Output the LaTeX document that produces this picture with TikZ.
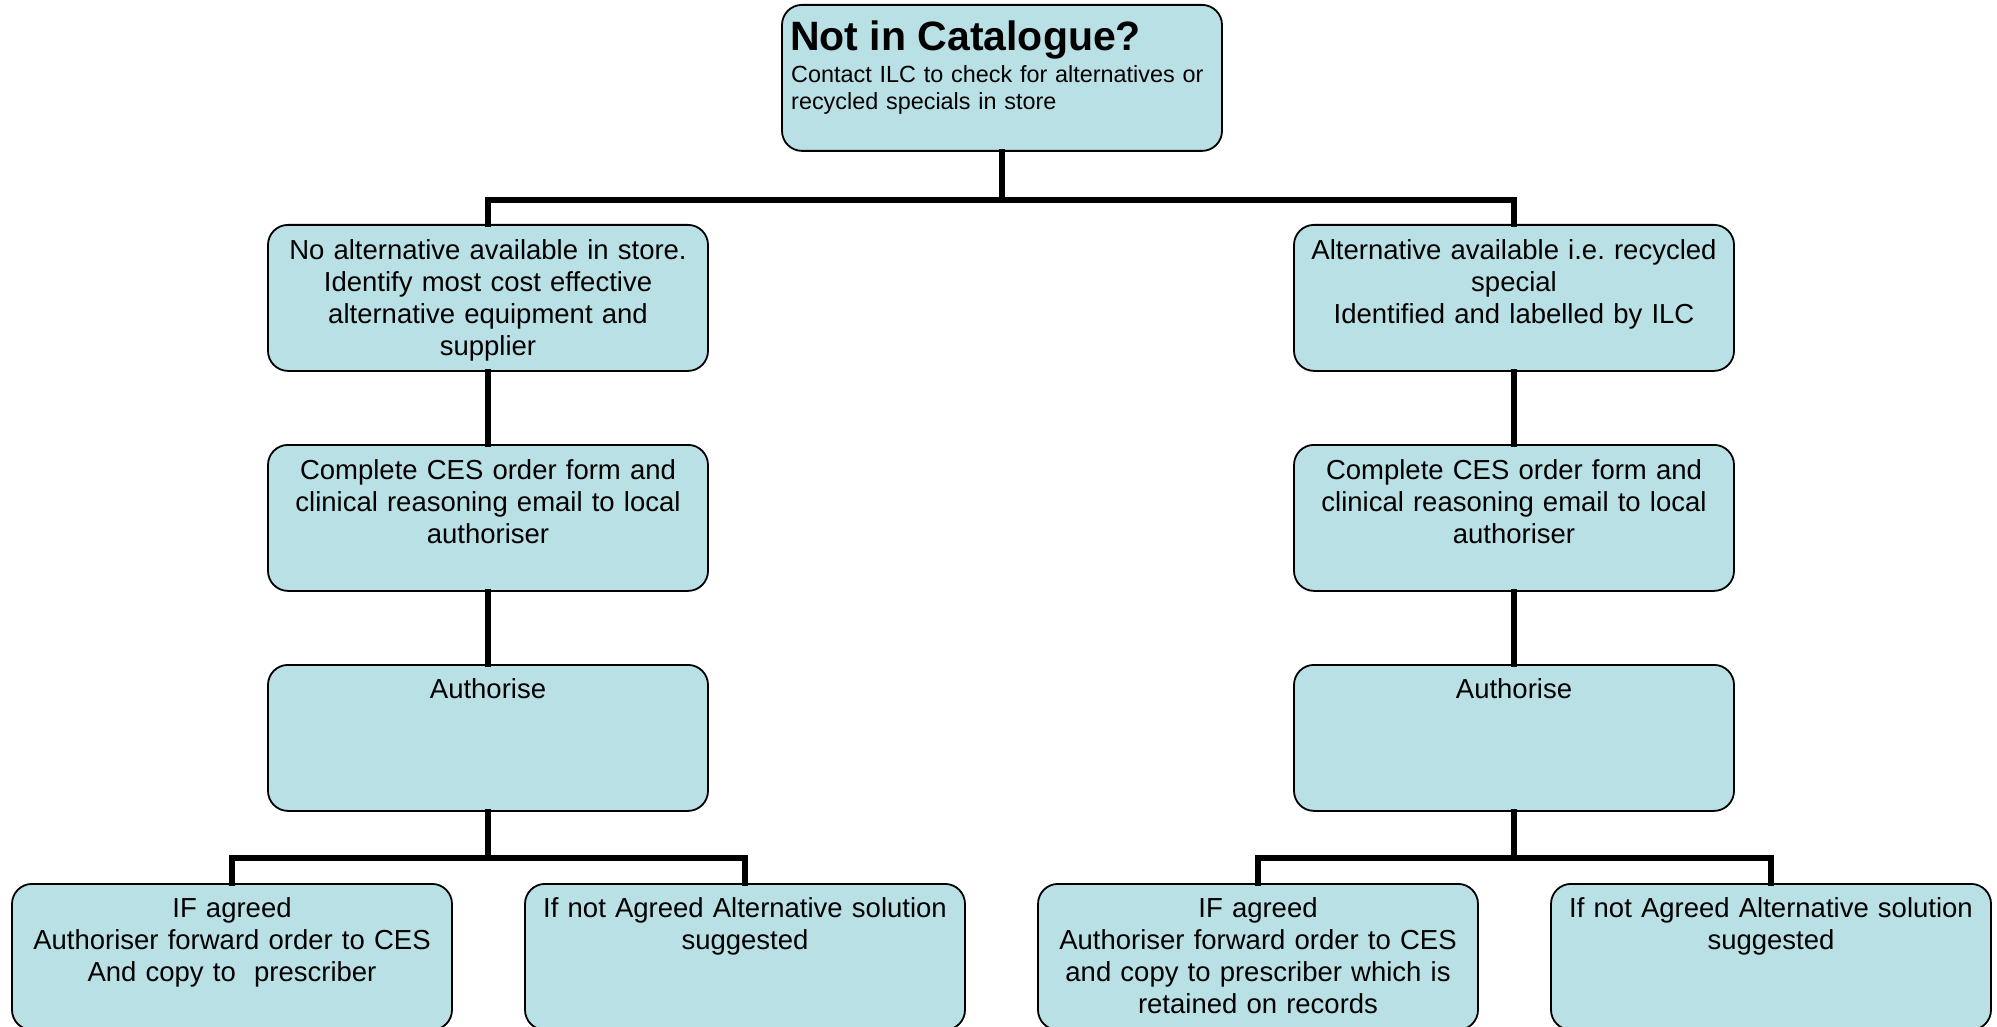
\documentclass[tikz,border=0pt]{standalone}
\usepackage{fontspec}
\setmainfont{Liberation Sans}
\definecolor{boxfill}{RGB}{185,224,228}
\tikzset{
  x=1pt, y=-1pt,
  stepbox/.style={draw=black, line width=1.8pt, fill=boxfill, rounded corners=20pt,
    minimum width=440pt, minimum height=146pt, inner sep=0pt, anchor=north},
  boxtext/.style={anchor=base, inner sep=0pt, text width=436pt, align=center,
    font=\fontsize{27.5}{32.3}\selectfont},
  conn/.style={line width=5.5pt, line join=miter, line cap=rect}
}
\begin{document}
\begin{tikzpicture}
\useasboundingbox (0,0) rectangle (1997,1027);
\clip (0,0) rectangle (1997,1027);

% boxes
\node[stepbox] (top) at (1002,4) {};
\node[stepbox] (L1) at (488,224) {};
\node[stepbox] (R1) at (1514,224) {};
\node[stepbox] (L2) at (488,444) {};
\node[stepbox] (R2) at (1514,444) {};
\node[stepbox] (L3) at (488,664) {};
\node[stepbox] (R3) at (1514,664) {};
\node[stepbox] (B1) at (232,883) {};
\node[stepbox] (B2) at (745,883) {};
\node[stepbox] (B3) at (1258,883) {};
\node[stepbox] (B4) at (1771,883) {};

% connectors
\coordinate (j0) at (1002,200);
\coordinate (jL) at (488,858);
\coordinate (jR) at (1514,858);
\draw[conn] (top.south) -- (j0);
\draw[conn] (L1.north) |- (j0) -| (R1.north);
\draw[conn] (L1.south) -- (L2.north);
\draw[conn] (R1.south) -- (R2.north);
\draw[conn] (L2.south) -- (L3.north);
\draw[conn] (R2.south) -- (R3.north);
\draw[conn] (L3.south) -- (jL);
\draw[conn] (R3.south) -- (jR);
\draw[conn] (B1.north) |- (jL) -| (B2.north);
\draw[conn] (B3.north) |- (jR) -| (B4.north);

% texts
\node[anchor=base west, inner sep=0pt, font=\fontsize{41}{46}\bfseries\selectfont] (ttitle) at (790,51) {Not in Catalogue?};
\node[anchor=base west, inner sep=0pt, text width=425pt, align=left, font=\fontsize{23.4}{26.5}\selectfont] (tsub) at (791,83) {Contact ILC to check for alternatives or\\recycled specials in store};

\node[boxtext] (tL1) at (488,259) {No alternative available in store.\\Identify most cost effective\\alternative equipment and\\supplier};
\node[boxtext] (tR1) at (1514,259) {Alternative available i.e.\ recycled\\special\\Identified and labelled by ILC};
\node[boxtext] (tL2) at (488,479) {Complete CES order form and\\clinical reasoning email to local\\authoriser};
\node[boxtext] (tR2) at (1514,479) {Complete CES order form and\\clinical reasoning email to local\\authoriser};
\node[boxtext] (tL3) at (488,698) {Authorise};
\node[boxtext] (tR3) at (1514,698) {Authorise};
\node[boxtext] (tB1) at (232,917) {IF agreed\\Authoriser forward order to CES\\And copy to\ \ prescriber};
\node[boxtext] (tB2) at (745,917) {If not Agreed Alternative solution\\suggested};
\node[boxtext] (tB3) at (1258,917) {IF agreed\\Authoriser forward order to CES\\and copy to prescriber which is\\retained on records};
\node[boxtext] (tB4) at (1771,917) {If not Agreed Alternative solution\\suggested};
\end{tikzpicture}
\end{document}
